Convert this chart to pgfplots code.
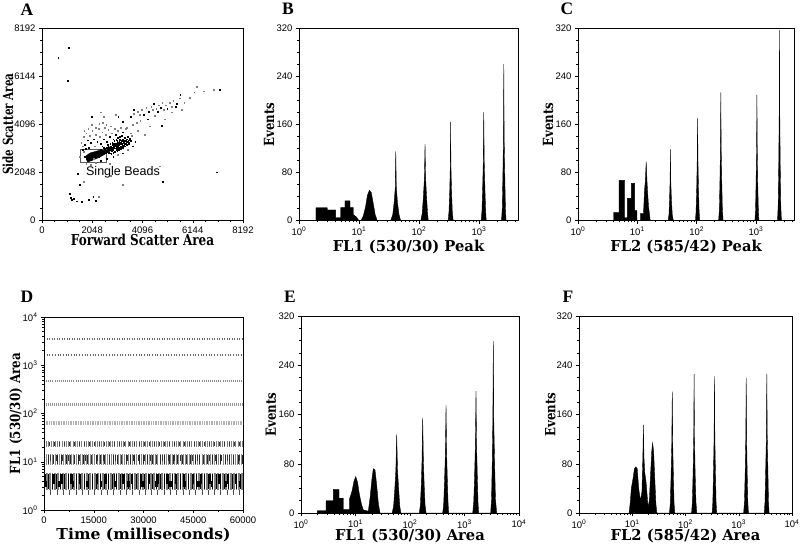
\documentclass[border=0pt]{standalone}
\usepackage{fontspec}
\setmainfont{Liberation Sans}
\newfontfamily\labfont{DejaVu Serif}
\newfontfamily\letfont{Liberation Serif}
\usepackage{pgfplots}
\pgfplotsset{compat=1.18}
\pgfplotsset{
  mybase/.style={scale only axis, anchor=south west, axis line style={line width=0.6pt},
    tick align=outside, tick pos=left, major tick length=3pt, minor tick length=1.6pt,
    tick style={black, line width=0.5pt},
    tick label style={font=\fontsize{9.5}{10}\selectfont},
    /pgf/number format/assume math mode=true, /pgf/number format/1000 sep={},
    scaled ticks=false,
    xlabel style={font=\labfont\bfseries\fontsize{15}{16}\selectfont, anchor=center},
    ylabel style={font=\labfont\bfseries\fontsize{14}{15}\selectfont, anchor=center}},
  myhist/.style={mybase, ymin=0, ymax=320, ytick={0,80,160,240,320}, minor y tick num=3,
    xmin=1, ylabel={Events}},
  hfill/.style={fill=black, draw=black, line width=0.35pt},
  dots/.style={only marks, mark=square*, mark size=0.38pt, mark options={draw=none}},
}
\begin{document}
\begin{tikzpicture}
\useasboundingbox (0pt,0pt) rectangle (800pt,-548pt);
% ---------------- A ----------------
\begin{axis}[mybase, at={(42pt,-220pt)}, width=201pt, height=192pt,
  xmin=0, xmax=8192, ymin=0, ymax=8192,
  xtick={0,2048,4096,6144,8192}, ytick={0,2048,4096,6144,8192}, minor tick num=3,
  xlabel={Forward Scatter Area}, ylabel={Side Scatter Area},
  xlabel style={at={(axis description cs:0.5,-0.104)}, xscale=0.8},
  ylabel style={at={(axis description cs:-0.169,0.5)}, xscale=0.74}]
\addplot[fill=black, draw=black] coordinates {(1834,2517) (1793,2731) (1956,2859) (2242,2944) (2527,3030) (2690,3115) (2812,3115) (2853,2987) (2649,2859) (2364,2688) (2079,2560) (1875,2475) (1834,2517)};
\addplot[dots, black] coordinates {
(2650,2950) (2700,3050) (2720,2880) (2760,3000) (2800,3120) (2830,2950) (2850,3080) (2880,3200) (2900,3010) (2930,3130)
(2950,2920) (2980,3060) (3000,3250) (3020,3150) (3050,3000) (3080,3300) (3100,3180) (3120,3080) (3150,3350) (3170,3230)
(3200,3120) (3220,3400) (3250,3280) (3280,3180) (3300,3450) (3320,3330) (3350,3220) (3380,3500) (3400,3380) (3420,3270)
(3450,3450) (3480,3330) (3500,3550) (3520,3400) (3550,3300) (3580,3480) (3600,3380) (2700,3150) (2780,3250) (2860,3300)
(2940,3380) (3020,3420) (3100,3500) (3180,3560) (3260,3600) (2750,2850) (2820,2820) (2900,2860) (2980,2900) (3060,2950)
(3140,3000) (3220,3050) (3300,3100) (3380,3150) (3460,3200) (3540,3250) (2620,3080) (2680,3200) (2600,2880) (2560,3000)
(2500,3080) (2450,3150) (2400,3000) (2740,3100) (2790,2980) (2870,3020) (2960,3200) (3040,3100) (3130,3280) (3230,3330)
(3330,3400) (3430,3350) (3160,3420) (3060,3380) (2920,3250) (2880,3100) (2990,3150) (3090,3230) (3190,3300) (3290,3370)
(2840,3040) (2940,3090) (3040,3160) (3140,3220) (3240,3250) (3340,3300) (2770,3060) (2660,3020) (2580,2960) (2700,2960)
(1750,3200) (1850,3400) (1900,3100) (2000,3300) (2100,3450) (2250,3350) (2400,3250) (2500,3450) (2650,3350) (2750,3550)
(2900,3450) (3000,3650) (3300,3750) (1650,3000) (1780,3050) (1800,2600) (1850,2750) (1750,2700) (2000,2550) (2300,2700)
(2400,2520) (2650,2600) (2900,2700) (3300,2850) (3700,3150) (3800,3350)
(3600,4400) (4150,4500) (4350,4620) (4550,4950) (4700,4620) (4850,4800) (5100,4750) (5500,4950) (4300,4300) (3300,4200)
(2024,4408) (3110,4408) (3722,4693) (4878,4025) (5449,4836) (5637,5362) (7228,5547) (664,6925) (1100,7352) (1047,5931)
(7121,2035) (4918,1635) (1440,1963) (1549,1493) (1141,1109) (1209,853) (1617,781) (2091,995) (2200,820) (1300,900)
(1400,800) (1180,950) (1900,850)};
\addplot[dots, black!50] coordinates {
(1600,3300) (1700,3550) (1800,3700) (1950,3600) (2050,3800) (2150,3150) (2200,3650) (2300,3900) (2350,3550) (2450,3750)
(2550,3950) (2600,3650) (2700,3850) (2800,4000) (2850,3700) (2950,3900) (3100,3800) (3200,3950) (3400,3900) (1700,2900)
(1550,2700) (1650,3150) (1880,3900) (2020,4050) (2180,3950) (2330,4100) (2480,4150) (2620,4050) (1720,3800) (2100,2620)
(2200,2450) (3100,2800) (2000,2350) (1800,2400) (3500,3000) (3650,3600) (2750,2400) (3900,4620) (4050,4700) (5300,4850)
(4950,4700) (3850,4150) (3700,4050) (3995,4480) (6005,5219) (2300,1000) (6305,5688) (5000,4300) (5800,5000) (4600,4450)
(3900,3800) (4200,3650) (6200,5450) (2400,4600) (3000,4500) (5300,4600) (4400,4000) (3600,3700) (4800,2300) (2800,1900)
(1700,1650) (5700,4700) (6600,5500) (3300,1500) (3750,4550) (4250,4780) (4450,4850) (4500,4700) (4650,4750) (4750,4900)
(4900,5000) (5050,4900) (5200,5000) (5350,5100) (5600,5200) (4000,4250) (3450,3950) (2500,4408) (6983,5547)};
\addplot[black!65, line width=0.8pt] coordinates {(1550,2445) (2610,2445) (2610,3016) (1550,3016) (1550,2445)};
\node[font=\fontsize{12.5}{13}\selectfont] at (axis cs:3300,2018) {Single Beads};
\end{axis}
% ---------------- B ----------------
\begin{axis}[xmode=log, myhist, at={(299pt,-220.7pt)}, width=219pt, height=192.7pt, xmax=4467,
  xtick={1,10,100,1000}, xticklabels={10\textsuperscript{0},10\textsuperscript{1},10\textsuperscript{2},10\textsuperscript{3}},
  minor xtick={2,3,4,5,6,7,8,9,20,30,40,50,60,70,80,90,200,300,400,500,600,700,800,900,2000,3000,4000},
  xlabel={FL1 (530/30) Peak},
  xlabel style={at={(axis description cs:0.5,-0.134)}, xscale=0.98},
  ylabel style={at={(axis description cs:-0.137,0.5)}, xscale=0.84}]
\addplot[hfill] coordinates {
(1.92,0) (1.92,21.6) (2.96,21.6) (2.96,17.8) (4.08,17.8) (4.08,5) (4.95,5) (4.95,22) (5.84,22) (5.84,33) (7.08,33) (7.08,22) (8.04,22) (8.04,10) (9.1,6) (10,0)
(10.8,0) (11.8,8) (12.8,22) (13.8,42) (14.9,50.5) (16,47) (17.2,30) (18.6,10) (20.2,0)
(33.7,0) (36.5,10) (38.5,30) (40.2,55) (41,115) (41.9,55) (43.8,30) (46.5,10) (49.5,0)
(107,0) (113,12) (118,38) (123,70) (126,127) (129,70) (134,38) (139,12) (143,0)
(306,0) (316,15) (325,48) (332,90) (336,164) (341,90) (349,48) (359,15) (372,0)
(1085,0) (1120,16) (1150,54) (1180,100) (1200,180) (1222,100) (1255,54) (1290,16) (1320,0)
(2370,0) (2440,20) (2500,75) (2555,140) (2590,260) (2625,140) (2690,75) (2760,20) (2830,0)} \closedcycle;
\end{axis}
% ---------------- C ----------------
\begin{axis}[xmode=log, myhist, at={(578pt,-220.7pt)}, width=216pt, height=192.7pt, xmax=4365,
  xtick={1,10,100,1000}, xticklabels={10\textsuperscript{0},10\textsuperscript{1},10\textsuperscript{2},10\textsuperscript{3}},
  minor xtick={2,3,4,5,6,7,8,9,20,30,40,50,60,70,80,90,200,300,400,500,600,700,800,900,2000,3000,4000},
  xlabel={FL2 (585/42) Peak},
  xlabel style={at={(axis description cs:0.5,-0.134)}, xscale=0.98},
  ylabel style={at={(axis description cs:-0.138,0.5)}, xscale=0.84}]
\addplot[hfill] coordinates {
(4,0) (4,14) (4.92,14) (4.92,67) (6.13,67) (6.13,5) (6.8,5) (6.8,37) (7.94,37) (7.94,62) (9.0,62) (9.0,17) (9.85,17) (9.85,0)
(11.2,0) (11.2,12) (12.7,12) (13.2,50) (13.6,65) (14.1,98) (14.6,62) (15.4,25) (16.5,0)
(33,0) (34.1,10) (34.9,36) (35.6,66) (36.1,119) (36.6,66) (37.5,36) (38.8,10) (40.5,0)
(95,0) (97.5,14) (99.8,50) (101.8,94) (103.5,170) (105.3,94) (107.5,50) (110,14) (113,0)
(234,0) (241,18) (246,62) (251,118) (255,213) (259,118) (265,62) (271,18) (279,0)
(955,0) (980,17) (1000,60) (1020,115) (1035,209) (1050,115) (1070,60) (1095,17) (1120,0)
(2300,0) (2360,25) (2410,90) (2455,175) (2485,317) (2515,175) (2560,90) (2615,25) (2680,0)} \closedcycle;
\end{axis}
% ---------------- D ----------------
\begin{axis}[ymode=log, mybase, at={(44pt,-510pt)}, width=199pt, height=193pt,
  xmin=0, xmax=60000, xtick={0,15000,30000,45000,60000}, minor x tick num=1,
  ymin=1, ymax=10000, ytick={1,10,100,1000,10000},
  yticklabels={10\textsuperscript{0},10\textsuperscript{1},10\textsuperscript{2},10\textsuperscript{3},10\textsuperscript{4}},
  minor ytick={2,3,4,5,6,7,8,9,20,30,40,50,60,70,80,90,200,300,400,500,600,700,800,900,2000,3000,4000,5000,6000,7000,8000,9000},
  xlabel={Time (milliseconds)}, ylabel={FL1 (530/30) Area},
  xlabel style={at={(axis description cs:0.5,-0.13)}, xscale=1.04},
  ylabel style={at={(axis description cs:-0.141,0.5)}, xscale=0.85}]
\addplot[black!60, line width=1.5pt, dash pattern=on 0.8pt off 1.7pt] coordinates {(0,3470) (60000,3470)};
\addplot[black!60, line width=1.5pt, dash pattern=on 0.8pt off 1.9pt] coordinates {(0,1620) (60000,1620)};
\addplot[black!45, line width=2pt, dash pattern=on 0.6pt off 1.5pt] coordinates {(0,470) (60000,470)};
\addplot[black!40, line width=2.5pt, dash pattern=on 0.6pt off 1.4pt] coordinates {(0,155) (60000,155)};
\addplot[black!30, line width=3.5pt, dash pattern=on 0.6pt off 1.1pt] coordinates {(0,63) (60000,63)};
\addplot[black!50, line width=6pt, dash pattern=on 0.6pt off 1.6pt] coordinates {(0,23) (60000,23)};
\addplot[black!80, line width=4pt, dash pattern=on 0.7pt off 4.3pt] coordinates {(0,23) (60000,23)};
\addplot[black!45, line width=11pt, dash pattern=on 0.6pt off 1.5pt] coordinates {(0,11) (60000,11)};
\addplot[black!85, line width=9pt, dash pattern=on 0.7pt off 3.6pt] coordinates {(0,11) (60000,11)};
\addplot[black!80, line width=6pt, dash pattern=on 0.6pt off 5.3pt] coordinates {(0,12) (60000,12)};
\addplot[black!50, line width=17pt, dash pattern=on 0.6pt off 1.0pt] coordinates {(0,3.9) (60000,3.9)};
\addplot[black, line width=15pt, dash pattern=on 0.9pt off 3.1pt] coordinates {(0,3.9) (60000,3.9)};
\addplot[black, line width=10pt, dash pattern=on 1.8pt off 6.9pt] coordinates {(0,4.4) (60000,4.4)};
\addplot[black, line width=6pt, dash pattern=on 2.6pt off 11.3pt] coordinates {(0,3.5) (60000,3.5)};
\addplot[black!70, line width=5pt, dash pattern=on 0.6pt off 5.7pt] coordinates {(0,2.3) (60000,2.3)};
\draw[line width=1.6pt] (rel axis cs:0,0) -- (rel axis cs:0,1);
\end{axis}
% ---------------- E ----------------
\begin{axis}[xmode=log, myhist, at={(301pt,-513pt)}, width=218pt, height=197pt, xmax=10000,
  xtick={1,10,100,1000,10000}, xticklabels={10\textsuperscript{0},10\textsuperscript{1},10\textsuperscript{2},10\textsuperscript{3},10\textsuperscript{4}},
  minor xtick={2,3,4,5,6,7,8,9,20,30,40,50,60,70,80,90,200,300,400,500,600,700,800,900,2000,3000,4000,5000,6000,7000,8000,9000},
  xlabel={FL1 (530/30) Area},
  xlabel style={at={(axis description cs:0.5,-0.118)}, xscale=0.98},
  ylabel style={at={(axis description cs:-0.138,0.5)}, xscale=0.84}]
\addplot[hfill] coordinates {
(2.0,0) (2.0,3.7) (2.88,3.7) (2.88,20) (3.92,20) (3.92,38.5) (4.98,38.5) (4.98,24) (5.97,24) (5.97,6) (7.7,6) (7.7,22)
(8.6,35) (9.4,52) (10.1,59) (10.9,50) (11.8,30) (12.8,15) (13.9,5) (17.2,3) (18.5,25) (20,55) (21.2,72) (22.8,70) (24.5,45) (26.3,15) (28.2,0)
(47,0) (50,11) (52.5,38) (55,70) (57,127.7) (59,70) (62,38) (65,11) (68,0)
(148,0) (155,13) (161,46) (166,85) (171,154.7) (176,85) (182,46) (189,13) (197,0)
(398,0) (415,15) (430,52) (445,96) (458,175) (470,96) (485,52) (500,15) (513,0)
(1414,0) (1475,17) (1530,59) (1580,109) (1625,198) (1665,109) (1720,59) (1770,17) (1820,0)
(3020,0) (3130,22) (3230,84) (3310,153) (3375,279) (3440,153) (3560,84) (3700,22) (3900,0)} \closedcycle;
\end{axis}
% ---------------- F ----------------
\begin{axis}[xmode=log, myhist, at={(579pt,-513pt)}, width=213pt, height=197pt, xmax=10000,
  xtick={1,10,100,1000,10000}, xticklabels={10\textsuperscript{0},10\textsuperscript{1},10\textsuperscript{2},10\textsuperscript{3},10\textsuperscript{4}},
  minor xtick={2,3,4,5,6,7,8,9,20,30,40,50,60,70,80,90,200,300,400,500,600,700,800,900,2000,3000,4000,5000,6000,7000,8000,9000},
  xlabel={FL2 (585/42) Area},
  xlabel style={at={(axis description cs:0.5,-0.118)}, xscale=0.98},
  ylabel style={at={(axis description cs:-0.134,0.5)}, xscale=0.84}]
\addplot[hfill] coordinates {
(8.7,0) (9.2,18) (9.6,40) (10.3,55) (11.0,72) (11.7,75) (12.4,72) (13.2,40) (14.3,20) (15.2,35) (15.8,90) (16.2,143) (16.6,90)
(17.2,65) (18.2,50) (19.8,10) (20.9,20) (22.0,60) (23.2,100) (24.1,114) (25.2,100) (26.5,55) (27.8,15) (29,0)
(50,0) (51.8,16) (53.5,59) (55.1,108) (56.4,197) (57.7,108) (59.3,59) (61,16) (63,0)
(130,0) (134.5,18) (139,68) (142.5,124) (145,225.6) (147.5,124) (151.5,68) (157,18) (163,0)
(316,0) (326,18) (335,67) (344,122) (350,222) (356,122) (365,67) (375,18) (386,0)
(1235,0) (1280,18) (1320,66) (1355,121) (1380,219.6) (1405,121) (1440,66) (1480,18) (1520,0)
(3008,0) (3110,18) (3200,68) (3300,124) (3365,226) (3430,124) (3530,68) (3620,18) (3715,0)} \closedcycle;
\end{axis}
% panel letters
\node[font=\letfont\bfseries\fontsize{17.5}{18}\selectfont] at (27pt,-10pt) {A};
\node[font=\letfont\bfseries\fontsize{17.5}{18}\selectfont] at (288pt,-9pt) {B};
\node[font=\letfont\bfseries\fontsize{17.5}{18}\selectfont] at (567pt,-9pt) {C};
\node[font=\letfont\bfseries\fontsize{17.5}{18}\selectfont] at (27pt,-297pt) {D};
\node[font=\letfont\bfseries\fontsize{17.5}{18}\selectfont] at (290pt,-297pt) {E};
\node[font=\letfont\bfseries\fontsize{17.5}{18}\selectfont] at (568pt,-297pt) {F};
\end{tikzpicture}
\end{document}
